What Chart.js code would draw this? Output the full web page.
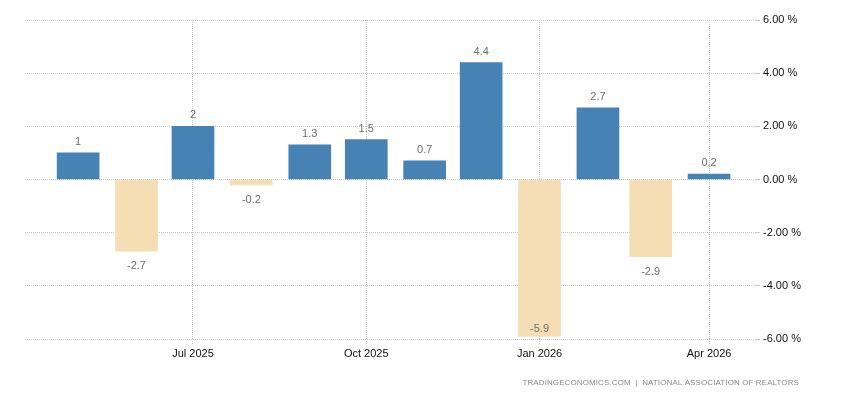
<!DOCTYPE html>
<html>
<head>
<meta charset="utf-8">
<script src="https://cdn.jsdelivr.net/npm/chart.js@4/dist/chart.umd.min.js"></script>
<style>
  html, body { margin: 0; padding: 0; background: #fff; }
  #wrap { width: 850px; height: 400px; }
</style>
</head>
<body>
<div id="wrap"><canvas id="chart" width="850" height="400"></canvas></div>
<script>
const months = ["2025-05", "2025-06", "2025-07", "2025-08", "2025-09", "2025-10",
                "2025-11", "2025-12", "2026-01", "2026-02", "2026-03", "2026-04"]
const values = [1, -2.7, 2, -0.2, 1.3, 1.5, 0.7, 4.4, -5.9, 2.7, -2.9, 0.2]
const tickMonths = ["2025-07", "2025-10", "2026-01", "2026-04"]
const yTicks = [-6, -4, -2, 0, 2, 4, 6]
const source = "TRADINGECONOMICS.COM  |  NATIONAL ASSOCIATION OF REALTORS"

const monthNames = ["Jan", "Feb", "Mar", "Apr", "May", "Jun", "Jul", "Aug", "Sep", "Oct", "Nov", "Dec"]
const font = "'Liberation Sans', Arial, sans-serif"
const gridColor = "#c8c8c8"

// days since the first month, so bars sit on a real time spacing
const dayOf = (m) => {
  const [y, mo] = m.split("-").map(Number)
  const [y0, mo0] = months[0].split("-").map(Number)
  return (Date.UTC(y, mo - 1, 1) - Date.UTC(y0, mo0 - 1, 1)) / 86400000
}
const monthLabel = (day) => {
  const m = months.find(mm => dayOf(mm) === day)
  if (!m) return ""
  const [y, mo] = m.split("-").map(Number)
  return monthNames[mo - 1] + " " + y
}

// value labels above/below each bar
const valueLabels = {
  id: "valueLabels",
  afterDatasetsDraw(chart) {
    const ctx = chart.ctx
    const area = chart.chartArea
    const meta = chart.getDatasetMeta(0)
    ctx.save()
    ctx.font = "11px " + font
    ctx.fillStyle = "#6e6e6e"
    ctx.textAlign = "center"
    ctx.textBaseline = "alphabetic"
    meta.data.forEach((bar, i) => {
      const v = values[i]
      let y
      if (v >= 0) {
        y = bar.y - 8
      } else {
        y = bar.y + 18
        if (y > area.bottom - 6) y = area.bottom - 7
      }
      ctx.fillText(String(v), bar.x, y)
    })
    ctx.restore()
  }
}

const sourceNote = {
  id: "sourceNote",
  afterDraw(chart) {
    const ctx = chart.ctx
    ctx.save()
    ctx.font = "8px " + font
    ctx.letterSpacing = "0.1px"
    ctx.fillStyle = "#8a8a90"
    ctx.textAlign = "right"
    ctx.textBaseline = "middle"
    ctx.fillText(source, 799, 383)
    ctx.restore()
  }
}

new Chart(document.getElementById("chart"), {
  type: "bar",
  data: {
    datasets: [{
      data: values.map((v, i) => ({ x: dayOf(months[i]), y: v })),
      backgroundColor: values.map(v => v >= 0 ? "#4682b4" : "#f5deb3"),
      barThickness: 42,
      borderWidth: 0
    }]
  },
  options: {
    responsive: false,
    animation: false,
    layout: { padding: { left: 25, right: 5, top: 20, bottom: 0 } },
    plugins: {
      legend: { display: false },
      tooltip: { enabled: false }
    },
    scales: {
      x: {
        type: "linear",
        offset: false,
        min: -28.2,
        max: 359.4,
        afterBuildTicks: (scale) => {
          scale.ticks = tickMonths.map(m => ({ value: dayOf(m) }))
        },
        afterFit: (scale) => { scale.height = 61 },
        ticks: {
          color: "#111",
          font: { family: font, size: 11 },
          padding: 3,
          maxRotation: 0,
          callback: (v) => monthLabel(v)
        },
        grid: {
          offset: false,
          color: gridColor,
          tickColor: gridColor,
          tickLength: 5,
          tickBorderDash: [1, 1]
        },
        border: { display: false, dash: [1, 1] }
      },
      y: {
        position: "right",
        min: -6,
        max: 6,
        afterBuildTicks: (scale) => {
          scale.ticks = yTicks.map(v => ({ value: v }))
        },
        afterFit: (scale) => { scale.width = 90 },
        ticks: {
          color: "#111",
          font: { family: font, size: 11 },
          padding: 3,
          callback: (v) => v.toFixed(2) + " %"
        },
        grid: {
          color: gridColor,
          tickColor: gridColor,
          tickLength: 5
        },
        border: { display: false, dash: [1, 1] }
      }
    }
  },
  plugins: [valueLabels, sourceNote]
})
</script>
</body>
</html>
